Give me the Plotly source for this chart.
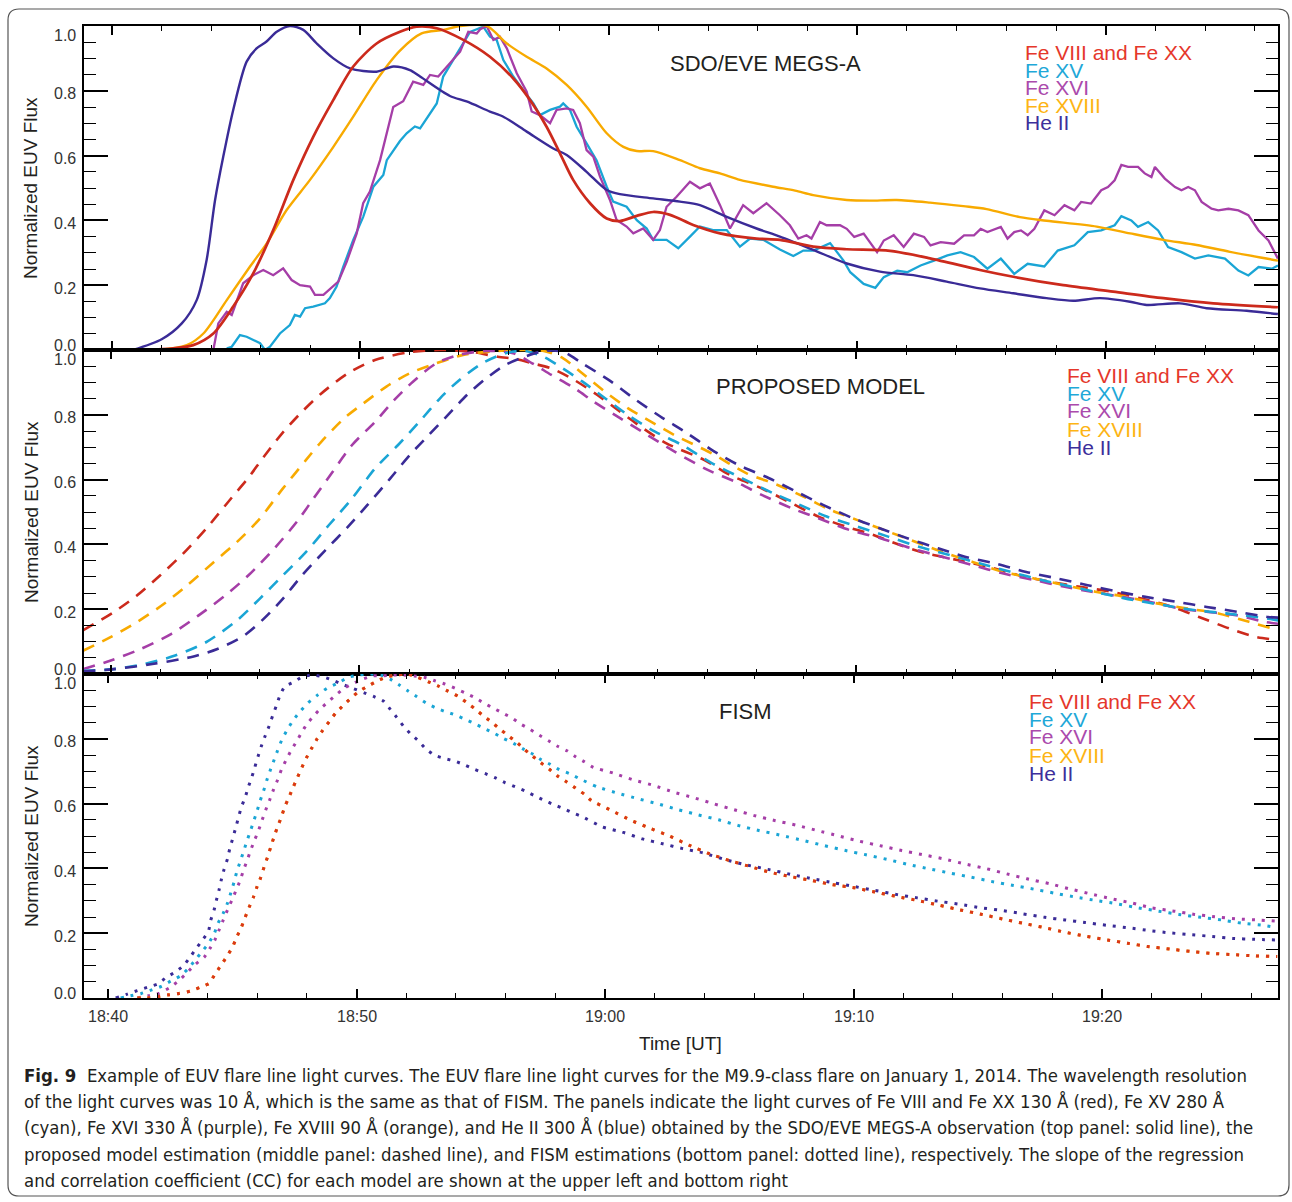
import plotly.graph_objects as go

# ---------------- DATA (time = minutes after 18:00 UT, values = normalized flux) ----------------
# Top panel: SDO/EVE MEGS-A observations (solid)
eve_t_he2 = [40.86, 42.01, 42.82, 43.42, 43.82, 44.16, 44.49, 44.89, 45.43, 45.83, 46.23, 46.64, 47.17, 47.71, 48.25,
             48.92, 49.59, 50.66, 51.33, 52.0, 52.41, 53.61, 54.28, 55.22, 55.76, 56.7, 57.77, 58.31, 59.11, 59.92,
             60.45, 61.79, 62.87, 63.67, 64.75, 65.95, 66.89, 68.23, 69.58, 70.92, 72.26, 73.6, 74.94, 76.28, 77.62,
             78.69, 79.77, 80.98, 81.65, 82.99, 84.06, 85.67, 86.93]
eve_v_he2 = [0.0, 0.033, 0.082, 0.154, 0.278, 0.463, 0.597, 0.741, 0.89, 0.931, 0.952, 0.982, 1.0, 0.988, 0.946,
             0.9, 0.869, 0.859, 0.875, 0.864, 0.844, 0.784, 0.767, 0.736, 0.72, 0.674, 0.622, 0.602, 0.55, 0.494,
             0.481, 0.468, 0.458, 0.447, 0.411, 0.375, 0.35, 0.309, 0.267, 0.242, 0.231, 0.211, 0.19, 0.175, 0.16,
             0.152, 0.16, 0.149, 0.139, 0.144, 0.129, 0.121, 0.111]

eve_t_fe8 = [41.27, 42.48, 43.28, 44.09, 44.89, 45.7, 46.5, 47.31, 48.11, 48.92, 49.72, 50.66, 51.6, 52.27, 53.08,
             54.15, 55.22, 56.16, 56.83, 57.5, 58.04, 58.57, 59.25, 59.92, 60.45, 61.13, 61.79, 62.47, 63.4, 64.48,
             65.95, 66.89, 68.23, 69.58, 71.32, 72.93, 74.94, 76.28, 78.29, 80.3, 82.32, 84.33, 86.93]
eve_v_fe8 = [0.0, 0.005, 0.015, 0.051, 0.134, 0.237, 0.37, 0.525, 0.658, 0.772, 0.875, 0.946, 0.982, 0.998, 0.993,
             0.957, 0.905, 0.838, 0.772, 0.689, 0.607, 0.525, 0.453, 0.406, 0.398, 0.414, 0.426, 0.417, 0.386, 0.36,
             0.344, 0.34, 0.319, 0.311, 0.306, 0.283, 0.247, 0.226, 0.2, 0.18, 0.16, 0.144, 0.132]

eve_t_fe18 = [41.93, 43.02, 43.69, 44.63, 45.56, 46.24, 47.04, 47.98, 48.92, 49.72, 50.66, 51.6, 52.47, 53.34, 54.02,
              55.09, 55.9, 56.7, 57.5, 58.31, 59.11, 59.92, 60.59, 61.13, 61.79, 62.87, 63.67, 64.48, 65.28, 66.62,
              67.5, 68.23, 69.58, 70.51, 71.59, 72.93, 74.27, 75.21, 76.55, 77.62, 79.64, 80.98, 82.32, 83.66, 85.0,
              86.93]
eve_v_fe18 = [0.0, 0.015, 0.051, 0.154, 0.257, 0.329, 0.432, 0.525, 0.627, 0.72, 0.833, 0.924, 0.977, 0.988, 1.0,
              1.0, 0.946, 0.905, 0.869, 0.818, 0.751, 0.669, 0.627, 0.614, 0.614, 0.586, 0.561, 0.545, 0.525, 0.504,
              0.492, 0.478, 0.463, 0.461, 0.463, 0.455, 0.444, 0.435, 0.41, 0.399, 0.381, 0.36, 0.34, 0.324, 0.303,
              0.276]

eve_t_fe15 = [44.63, 44.83, 45.16, 45.43, 45.7, 45.97, 46.17, 46.37, 46.77, 47.17, 47.37, 47.58, 47.78, 48.11, 48.58,
              48.78, 49.05, 49.32, 49.72, 50.12, 50.53, 50.93, 51.07, 51.6, 51.87, 52.2, 52.41, 52.68, 53.08, 53.34,
              53.75, 54.15, 54.42, 54.69, 54.95, 55.22, 55.49, 55.76, 56.16, 56.56, 56.97, 57.23, 57.64, 58.04, 58.17,
              58.44, 58.71, 59.11, 59.51, 59.92, 60.18, 60.72, 61.13, 61.53, 61.79, 62.33, 62.8, 63.27, 63.67, 64.2,
              64.75, 65.28, 65.69, 66.22, 66.89, 67.43, 67.83, 68.24, 68.91, 69.45, 69.72, 70.26, 70.73, 71.07, 71.61,
              72.01, 72.55, 73.09, 73.63, 74.16, 74.7, 75.24, 75.78, 76.32, 76.86, 77.53, 78.07, 78.74, 79.28, 79.82,
              80.36, 80.63, 81.03, 81.3, 81.71, 82.11, 82.51, 83.05, 83.59, 84.13, 84.8, 85.34, 85.74, 86.15, 86.69,
              86.93]
eve_v_fe15 = [0.005, 0.01, 0.046, 0.041, 0.031, 0.021, 0.0, 0.01, 0.051, 0.077, 0.108, 0.103, 0.129, 0.134, 0.144,
              0.16, 0.196, 0.257, 0.34, 0.411, 0.504, 0.54, 0.586, 0.645, 0.669, 0.69, 0.684, 0.715, 0.761, 0.844,
              0.895, 0.946, 0.982, 0.99, 0.998, 0.967, 0.957, 0.895, 0.844, 0.802, 0.761, 0.725, 0.741, 0.751, 0.761,
              0.741, 0.689, 0.638, 0.586, 0.504, 0.458, 0.442, 0.401, 0.375, 0.34, 0.34, 0.314, 0.35, 0.381, 0.37,
              0.37, 0.319, 0.344, 0.34, 0.31, 0.29, 0.307, 0.307, 0.33, 0.276, 0.24, 0.204, 0.192, 0.225, 0.245,
              0.24, 0.261, 0.276, 0.292, 0.302, 0.287, 0.251, 0.282, 0.235, 0.266, 0.258, 0.307, 0.323, 0.364, 0.369,
              0.385, 0.413, 0.4, 0.38, 0.395, 0.369, 0.318, 0.302, 0.282, 0.292, 0.282, 0.245, 0.23, 0.256, 0.251,
              0.261]

eve_t_fe16 = [44.09, 44.29, 44.63, 44.83, 45.29, 45.7, 46.1, 46.5, 46.9, 47.24, 47.58, 47.98, 48.18, 48.52, 49.12,
              49.46, 49.86, 50.12, 50.39, 50.8, 51.33, 51.73, 52.13, 52.54, 52.81, 53.14, 53.61, 54.02, 54.35, 54.69,
              54.83, 55.09, 55.36, 55.62, 55.9, 56.3, 56.7, 56.9, 57.23, 57.64, 57.9, 58.31, 58.57, 58.84, 59.11,
              59.38, 59.65, 60.05, 60.32, 60.72, 60.99, 61.39, 61.79, 62.06, 62.33, 62.73, 63.27, 63.67, 64.07, 64.48,
              64.88, 65.41, 65.82, 66.35, 66.89, 67.29, 67.63, 67.96, 68.16, 68.5, 68.77, 69.31, 69.58, 69.88, 70.26,
              70.8, 71.07, 71.47, 71.87, 72.28, 72.69, 72.95, 73.36, 73.9, 74.3, 74.7, 74.97, 75.24, 75.78, 76.05,
              76.32, 76.59, 76.86, 77.13, 77.53, 77.94, 78.34, 78.74, 79.01, 79.41, 79.82, 80.09, 80.36, 80.63, 80.9,
              81.3, 81.57, 81.84, 81.98, 82.38, 82.79, 83.05, 83.32, 83.59, 83.86, 84.26, 84.53, 84.94, 85.34, 85.74,
              86.15, 86.55, 86.93]
eve_v_fe16 = [0.0, 0.082, 0.118, 0.108, 0.206, 0.231, 0.247, 0.231, 0.252, 0.216, 0.2, 0.196, 0.17, 0.17, 0.211,
              0.273, 0.36, 0.453, 0.489, 0.586, 0.75, 0.768, 0.828, 0.818, 0.849, 0.844, 0.885, 0.921, 0.982, 0.977,
              0.99, 1.0, 0.957, 0.967, 0.931, 0.854, 0.797, 0.736, 0.725, 0.7, 0.741, 0.746, 0.741, 0.7, 0.617,
              0.597, 0.535, 0.463, 0.401, 0.381, 0.36, 0.375, 0.34, 0.37, 0.442, 0.473, 0.519, 0.499, 0.514, 0.447,
              0.375, 0.447, 0.422, 0.453, 0.416, 0.385, 0.344, 0.354, 0.344, 0.395, 0.385, 0.385, 0.374, 0.349, 0.359,
              0.302, 0.338, 0.354, 0.318, 0.359, 0.349, 0.323, 0.333, 0.328, 0.354, 0.354, 0.374, 0.364, 0.38, 0.344,
              0.364, 0.369, 0.354, 0.374, 0.431, 0.416, 0.447, 0.431, 0.457, 0.452, 0.493, 0.503, 0.524, 0.571, 0.565,
              0.565, 0.545, 0.534, 0.565, 0.529, 0.503, 0.493, 0.503, 0.493, 0.457, 0.436, 0.431, 0.436, 0.431, 0.416,
              0.369, 0.338, 0.282]

# Middle panel: proposed model (dashed)
mod_t_fe8 = [38.89, 40.12, 41.05, 41.98, 42.9, 43.83, 44.83, 45.53, 46.15, 46.92, 47.69, 48.46, 49.54, 50.63, 52.02,
             53.25, 54.49, 55.57, 56.34, 56.96, 57.73, 58.66, 59.58, 60.51, 61.44, 62.36, 63.87, 64.95, 66.19, 67.27,
             68.5, 69.58, 70.66, 71.75, 72.83, 74.06, 75.3, 76.53, 77.77, 79.0, 80.24, 81.48, 82.71, 83.79, 85.03,
             86.11, 87.0]
mod_v_fe8 = [0.135, 0.191, 0.242, 0.304, 0.371, 0.448, 0.541, 0.605, 0.67, 0.745, 0.809, 0.865, 0.928, 0.969, 0.993,
             1.0, 0.995, 0.979, 0.972, 0.959, 0.943, 0.907, 0.861, 0.809, 0.757, 0.712, 0.661, 0.613, 0.573, 0.532,
             0.485, 0.455, 0.43, 0.398, 0.372, 0.352, 0.331, 0.305, 0.285, 0.269, 0.254, 0.233, 0.207, 0.176, 0.14,
             0.114, 0.105]

mod_t_fe18 = [38.89, 39.97, 41.05, 42.13, 43.06, 44.14, 45.07, 45.99, 46.92, 47.85, 48.46, 49.39, 50.16, 51.09, 52.02,
              53.1, 54.18, 55.26, 56.19, 57.42, 58.19, 58.97, 59.89, 60.82, 61.75, 62.67, 64.18, 65.57, 66.81, 67.89,
              68.97, 70.05, 71.13, 72.21, 73.45, 74.68, 75.92, 77.15, 78.39, 79.62, 80.86, 82.1, 83.33, 84.57, 85.8,
              87.0]
mod_v_fe18 = [0.072, 0.113, 0.16, 0.216, 0.273, 0.345, 0.407, 0.479, 0.572, 0.66, 0.716, 0.789, 0.835, 0.887, 0.928,
              0.959, 0.985, 0.995, 1.0, 0.997, 0.975, 0.928, 0.871, 0.82, 0.778, 0.738, 0.681, 0.62, 0.584, 0.547,
              0.506, 0.475, 0.444, 0.413, 0.377, 0.346, 0.315, 0.295, 0.274, 0.254, 0.238, 0.218, 0.202, 0.187, 0.161,
              0.135]

mod_t_fe16 = [38.89, 39.97, 41.2, 42.44, 43.52, 44.6, 45.53, 46.61, 47.54, 48.15, 48.93, 49.7, 50.63, 51.4, 52.17,
              53.1, 54.02, 55.11, 56.19, 56.96, 57.73, 58.66, 59.44, 60.51, 61.59, 62.67, 64.02, 65.26, 66.19, 67.42,
              68.5, 69.74, 70.97, 72.21, 73.45, 74.68, 75.92, 77.15, 78.39, 79.47, 80.71, 81.78, 83.02, 84.1, 85.34,
              86.42, 87.0]
mod_v_fe16 = [0.015, 0.041, 0.077, 0.124, 0.18, 0.242, 0.304, 0.39, 0.475, 0.541, 0.624, 0.706, 0.778, 0.845, 0.903,
              0.959, 0.985, 0.997, 0.99, 0.959, 0.923, 0.882, 0.84, 0.789, 0.738, 0.687, 0.63, 0.589, 0.553, 0.511,
              0.48, 0.444, 0.419, 0.388, 0.362, 0.336, 0.31, 0.29, 0.269, 0.254, 0.238, 0.223, 0.202, 0.192, 0.181,
              0.161, 0.155]

mod_t_fe15 = [38.89, 40.12, 41.36, 42.59, 43.83, 45.07, 45.99, 46.92, 47.85, 48.77, 49.7, 50.63, 51.55, 52.48, 53.25,
              54.02, 54.95, 55.88, 56.65, 57.42, 58.19, 58.97, 59.89, 60.82, 61.9, 62.98, 64.18, 65.41, 66.65, 67.73,
              68.81, 70.05, 71.28, 72.52, 73.75, 74.99, 76.22, 77.46, 78.7, 79.93, 81.17, 82.4, 83.64, 84.87, 86.57,
              87.0]
mod_v_fe15 = [0.01, 0.015, 0.031, 0.057, 0.098, 0.165, 0.232, 0.304, 0.376, 0.459, 0.541, 0.634, 0.706, 0.784, 0.851,
              0.907, 0.959, 0.99, 0.997, 0.979, 0.943, 0.903, 0.851, 0.799, 0.748, 0.707, 0.651, 0.604, 0.558, 0.522,
              0.486, 0.455, 0.424, 0.393, 0.367, 0.341, 0.315, 0.29, 0.269, 0.248, 0.228, 0.212, 0.197, 0.187, 0.171,
              0.165]

mod_t_he2 = [38.89, 40.12, 41.67, 43.21, 44.29, 45.37, 46.15, 46.92, 47.69, 48.62, 49.54, 50.32, 51.24, 52.02, 52.79,
             53.56, 54.33, 55.1, 55.88, 56.65, 57.42, 58.19, 58.97, 60.05, 61.13, 62.21, 63.1, 64.18, 65.26, 66.49,
             67.58, 68.66, 69.89, 70.97, 72.05, 73.29, 74.37, 75.61, 76.84, 78.08, 79.31, 80.55, 81.63, 82.87, 84.1,
             85.34, 86.57, 87.0]
mod_v_he2 = [0.008, 0.015, 0.031, 0.052, 0.077, 0.119, 0.17, 0.232, 0.304, 0.381, 0.454, 0.521, 0.603, 0.675, 0.737,
             0.799, 0.861, 0.912, 0.954, 0.979, 0.997, 0.995, 0.959, 0.907, 0.846, 0.79, 0.748, 0.692, 0.645, 0.604,
             0.563, 0.522, 0.48, 0.449, 0.419, 0.388, 0.362, 0.341, 0.315, 0.295, 0.274, 0.254, 0.238, 0.223, 0.207,
             0.192, 0.176, 0.174]

# Bottom panel: FISM estimations (dotted)
fism_t_he2 = [40.31, 40.78, 41.18, 41.58, 41.99, 42.32, 42.68, 43.03, 43.3, 43.56, 43.8, 44.04, 44.13, 44.27, 44.36,
              44.47, 44.56, 44.67, 44.81, 44.9, 45.03, 45.14, 45.25, 45.37, 45.52, 45.65, 45.79, 45.91, 46.04, 46.17,
              46.32, 46.48, 46.62, 46.77, 46.91, 47.11, 47.49, 47.83, 48.27, 48.7, 49.1, 49.5, 49.84, 50.31, 50.71,
              51.09, 51.36, 51.62, 51.89, 52.19, 52.5, 52.79, 53.15, 53.56, 53.96, 54.36, 54.77, 55.17, 55.57, 55.97,
              56.38, 56.78, 57.15, 57.56, 57.93, 58.34, 58.71, 59.1, 59.89, 60.7, 61.51, 62.32, 63.13, 63.94, 64.93,
              65.74, 66.56, 67.45, 68.35, 69.24, 69.96, 70.86, 71.76, 72.57, 73.38, 74.28, 75.18, 75.99, 76.8, 77.7,
              78.51, 79.32, 80.22, 81.03, 81.92, 82.73, 83.63, 84.44, 85.25, 86.15, 87.05]
fism_v_he2 = [0.0, 0.012, 0.023, 0.033, 0.043, 0.062, 0.079, 0.099, 0.126, 0.154, 0.179, 0.205, 0.239, 0.272, 0.301,
              0.334, 0.365, 0.397, 0.43, 0.461, 0.495, 0.526, 0.557, 0.59, 0.619, 0.652, 0.682, 0.713, 0.746, 0.777,
              0.808, 0.839, 0.87, 0.901, 0.932, 0.961, 0.976, 0.992, 0.997, 0.99, 0.979, 0.966, 0.956, 0.942, 0.93,
              0.916, 0.891, 0.866, 0.839, 0.814, 0.793, 0.769, 0.749, 0.739, 0.731, 0.719, 0.705, 0.693, 0.68, 0.665,
              0.652, 0.639, 0.625, 0.61, 0.597, 0.584, 0.571, 0.559, 0.528, 0.512, 0.491, 0.476, 0.461, 0.448, 0.425,
              0.41, 0.397, 0.382, 0.368, 0.355, 0.345, 0.332, 0.319, 0.309, 0.299, 0.289, 0.278, 0.27, 0.26, 0.249,
              0.241, 0.233, 0.224, 0.217, 0.208, 0.201, 0.195, 0.19, 0.184, 0.181, 0.179]

fism_t_fe15 = [40.51, 40.91, 41.34, 41.76, 42.15, 42.52, 42.93, 43.22, 43.49, 43.76, 44.03, 44.27, 44.43, 44.64, 44.81,
               44.94, 45.07, 45.18, 45.32, 45.45, 45.58, 45.72, 45.85, 45.99, 46.12, 46.26, 46.39, 46.52, 46.68, 46.82,
               46.98, 47.19, 47.46, 47.76, 48.05, 48.43, 48.81, 49.23, 49.68, 50.11, 50.55, 50.98, 51.36, 51.72, 52.05,
               52.43, 52.79, 53.17, 53.57, 53.97, 54.38, 54.77, 55.14, 55.54, 55.92, 56.32, 56.72, 57.09, 57.42, 57.8,
               58.16, 58.56, 58.97, 59.71, 60.52, 61.33, 62.14, 62.95, 63.76, 64.57, 65.38, 66.19, 67.09, 67.99, 68.79,
               69.69, 70.5, 71.4, 72.21, 73.02, 73.92, 74.73, 75.54, 76.44, 77.25, 78.06, 78.96, 79.77, 80.58, 81.47,
               82.28, 83.09, 83.99, 84.8, 85.61, 86.51, 87.05]
fism_v_fe15 = [0.0, 0.007, 0.014, 0.025, 0.036, 0.052, 0.069, 0.09, 0.115, 0.141, 0.167, 0.198, 0.231, 0.262, 0.293,
               0.324, 0.357, 0.389, 0.421, 0.451, 0.482, 0.513, 0.543, 0.575, 0.608, 0.639, 0.672, 0.701, 0.734, 0.763,
               0.794, 0.825, 0.858, 0.887, 0.911, 0.935, 0.956, 0.971, 0.99, 0.997, 1.0, 0.997, 0.984, 0.966, 0.949,
               0.93, 0.911, 0.896, 0.884, 0.874, 0.86, 0.846, 0.832, 0.817, 0.801, 0.786, 0.768, 0.753, 0.736, 0.721,
               0.705, 0.693, 0.677, 0.651, 0.632, 0.615, 0.599, 0.581, 0.565, 0.55, 0.532, 0.517, 0.502, 0.486, 0.471,
               0.455, 0.442, 0.427, 0.412, 0.399, 0.385, 0.373, 0.36, 0.347, 0.336, 0.324, 0.311, 0.301, 0.291, 0.278,
               0.268, 0.258, 0.249, 0.241, 0.231, 0.224, 0.217]

fism_t_fe16 = [41.18, 41.62, 42.05, 42.5, 42.86, 43.19, 43.53, 43.87, 44.11, 44.3, 44.47, 44.64, 44.81, 44.98, 45.15,
               45.32, 45.45, 45.61, 45.74, 45.91, 46.07, 46.21, 46.35, 46.51, 46.66, 46.82, 46.98, 47.15, 47.36, 47.58,
               47.79, 48.0, 48.27, 48.56, 48.86, 49.17, 49.5, 49.88, 50.24, 50.64, 51.05, 51.45, 51.89, 52.32, 52.72,
               53.15, 53.56, 53.96, 54.36, 54.74, 55.11, 55.52, 55.92, 56.28, 56.62, 56.99, 57.36, 57.73, 58.09, 58.47,
               58.83, 59.17, 59.53, 60.34, 61.15, 61.96, 62.77, 63.58, 64.39, 65.2, 66.01, 66.82, 67.72, 68.53, 69.42,
               70.23, 71.13, 71.94, 72.75, 73.65, 74.46, 75.36, 76.17, 76.98, 77.88, 78.69, 79.5, 80.4, 81.21, 82.01,
               82.91, 83.72, 84.53, 85.43, 86.24, 87.05]
fism_v_fe16 = [0.0, 0.007, 0.014, 0.033, 0.054, 0.079, 0.105, 0.126, 0.154, 0.179, 0.21, 0.241, 0.272, 0.301, 0.332,
               0.363, 0.394, 0.427, 0.456, 0.489, 0.52, 0.551, 0.581, 0.612, 0.643, 0.672, 0.705, 0.732, 0.763, 0.791,
               0.819, 0.845, 0.87, 0.894, 0.914, 0.935, 0.956, 0.971, 0.984, 0.994, 0.994, 0.997, 0.997, 0.994, 0.99,
               0.979, 0.969, 0.956, 0.942, 0.928, 0.911, 0.894, 0.878, 0.863, 0.845, 0.829, 0.811, 0.794, 0.777, 0.763,
               0.744, 0.729, 0.712, 0.694, 0.673, 0.656, 0.635, 0.618, 0.599, 0.581, 0.563, 0.548, 0.533, 0.517, 0.5,
               0.484, 0.469, 0.455, 0.443, 0.429, 0.414, 0.399, 0.383, 0.368, 0.353, 0.337, 0.322, 0.306, 0.293, 0.278,
               0.268, 0.258, 0.251, 0.244, 0.241, 0.237]

fism_t_fe8 = [41.18, 41.58, 42.01, 42.46, 42.86, 43.3, 43.7, 44.07, 44.31, 44.54, 44.78, 45.01, 45.18, 45.37, 45.52,
              45.68, 45.85, 45.99, 46.15, 46.28, 46.42, 46.55, 46.68, 46.82, 46.98, 47.11, 47.29, 47.46, 47.62, 47.8,
              47.99, 48.19, 48.4, 48.63, 48.9, 49.17, 49.48, 49.77, 50.11, 50.47, 50.85, 51.25, 51.65, 52.05, 52.46,
              52.89, 53.29, 53.66, 54.07, 54.4, 54.74, 55.07, 55.41, 55.74, 56.08, 56.42, 56.75, 57.09, 57.42, 57.76,
              58.09, 58.46, 58.81, 59.17, 59.44, 60.25, 61.06, 61.87, 62.59, 63.4, 64.21, 65.02, 65.83, 66.64, 67.45,
              68.35, 69.15, 70.05, 70.86, 71.76, 72.57, 73.47, 74.28, 75.18, 75.99, 76.8, 77.7, 78.51, 79.32, 80.22,
              81.03, 81.83, 82.73, 83.54, 84.35, 85.25, 86.15, 87.05]
fism_v_fe8 = [0.0, 0.0, 0.004, 0.01, 0.014, 0.021, 0.033, 0.045, 0.074, 0.1, 0.128, 0.157, 0.188, 0.219, 0.249,
              0.28, 0.311, 0.342, 0.373, 0.404, 0.435, 0.466, 0.497, 0.528, 0.559, 0.59, 0.621, 0.652, 0.68, 0.711,
              0.742, 0.77, 0.798, 0.825, 0.853, 0.88, 0.904, 0.925, 0.947, 0.963, 0.979, 0.992, 0.997, 1.0, 0.99,
              0.976, 0.963, 0.948, 0.932, 0.914, 0.894, 0.873, 0.853, 0.832, 0.811, 0.791, 0.768, 0.746, 0.726, 0.706,
              0.685, 0.667, 0.648, 0.629, 0.61, 0.579, 0.548, 0.522, 0.5, 0.471, 0.445, 0.424, 0.406, 0.388, 0.375,
              0.362, 0.35, 0.34, 0.327, 0.313, 0.301, 0.286, 0.272, 0.258, 0.244, 0.231, 0.217, 0.203, 0.191, 0.179,
              0.169, 0.159, 0.151, 0.144, 0.138, 0.134, 0.13, 0.128]
# FISM Fe XVIII coincides with the Fe VIII/Fe XX curve
fism_t_fe18 = fism_t_fe8
fism_v_fe18 = fism_v_fe8

# Tick labels / texts
x_tickvals = [40, 50, 60, 70, 80]
x_ticktext = ["18:40", "18:50", "19:00", "19:10", "19:20"]
y_tickvals = [0.0, 0.2, 0.4, 0.6, 0.8, 1.0]
y_ticktext = ["0.0", "0.2", "0.4", "0.6", "0.8", "1.0"]
legend_labels = ["Fe VIII and Fe XX", "Fe XV", "Fe XVI", "Fe XVIII", "He II"]
panel_titles = ["SDO/EVE MEGS-A", "PROPOSED MODEL", "FISM"]
caption_lines = [
    "<b>Fig. 9</b>  Example of EUV flare line light curves. The EUV flare line light curves for the M9.9-class flare on January 1, 2014. The wavelength resolution",
    "of the light curves was 10 Å, which is the same as that of FISM. The panels indicate the light curves of Fe VIII and Fe XX 130 Å (red), Fe XV 280 Å",
    "(cyan), Fe XVI 330 Å (purple), Fe XVIII 90 Å (orange), and He II 300 Å (blue) obtained by the SDO/EVE MEGS-A observation (top panel: solid line), the",
    "proposed model estimation (middle panel: dashed line), and FISM estimations (bottom panel: dotted line), respectively. The slope of the regression",
    "and correlation coefficient (CC) for each model are shown at the upper left and bottom right",
]

# ---------------- STYLE ----------------
RED, CYAN, PURPLE, ORANGE, BLUE = "#cc2a1c", "#1aa5d5", "#a53ea7", "#f8aa00", "#3a2b97"
LEG_COLORS = ["#e5372b", "#1fa8d8", "#ab4aac", "#fdb414", "#3d2f9b"]
FONT = "Liberation Sans, Arial, sans-serif"
CAP_FONT = "Liberation Sans Narrow, DejaVu Sans Condensed, Roboto Condensed, Liberation Sans, sans-serif"

W, H = 1292, 1202
ML, MR, MT, MB = 84, 14, 26, 204
PW, PH = W - ML - MR, H - MT - MB


def fx(px):
    return (px - ML) / PW


def fy(py):
    return (H - MB - py) / PH


fig = go.Figure()

dash = dict(width=2.6, dash="12px,9px")
dot = dict(width=3, dash="3px,7px")

# top panel (noisy lines linear, smooth ones spline)
for t, v, c, shp, w in [(eve_t_fe15, eve_v_fe15, CYAN, "linear", 2.3), (eve_t_fe16, eve_v_fe16, PURPLE, "linear", 2.3),
                        (eve_t_fe18, eve_v_fe18, ORANGE, "spline", 2.4), (eve_t_he2, eve_v_he2, BLUE, "spline", 2.4),
                        (eve_t_fe8, eve_v_fe8, RED, "spline", 2.7)]:
    fig.add_trace(go.Scatter(x=t, y=v, mode="lines", line=dict(color=c, width=w, shape=shp, smoothing=0.8),
                             xaxis="x", yaxis="y", showlegend=False))
# middle panel
for t, v, c in [(mod_t_fe8, mod_v_fe8, RED), (mod_t_fe18, mod_v_fe18, ORANGE), (mod_t_fe16, mod_v_fe16, PURPLE),
                (mod_t_fe15, mod_v_fe15, CYAN), (mod_t_he2, mod_v_he2, BLUE)]:
    fig.add_trace(go.Scatter(x=t, y=v, mode="lines", line=dict(color=c, shape="spline", smoothing=0.8, **dash),
                             xaxis="x2", yaxis="y2", showlegend=False))
# bottom panel
for t, v, c in [(fism_t_he2, fism_v_he2, BLUE), (fism_t_fe15, fism_v_fe15, CYAN), (fism_t_fe16, fism_v_fe16, PURPLE),
                (fism_t_fe18, fism_v_fe18, ORANGE), (fism_t_fe8, fism_v_fe8, "#d9361a")]:
    fig.add_trace(go.Scatter(x=t, y=v, mode="lines", line=dict(color=c, shape="spline", smoothing=0.5, **dot),
                             xaxis="x3", yaxis="y3", showlegend=False))


def xax(rng, anchor):
    return dict(domain=[0, 1], anchor=anchor, range=rng, tickmode="array", tickvals=x_tickvals,
                ticktext=x_ticktext, showticklabels=False, ticks="inside", ticklen=9, tickwidth=1.5,
                tickcolor="black", showline=True, linewidth=2, linecolor="black", mirror="ticks",
                showgrid=False, zeroline=False,
                minor=dict(tickmode="linear", tick0=0, dtick=2, ticks="inside", ticklen=5, tickwidth=1.3,
                           tickcolor="black", showgrid=False))


def yax(dom, anchor):
    return dict(domain=dom, anchor=anchor, range=[0, 1], tickmode="array", tickvals=y_tickvals,
                showticklabels=False, ticks="inside", ticklen=24, tickwidth=1.5, tickcolor="black",
                showline=True, linewidth=2, linecolor="black", mirror="ticks", showgrid=False, zeroline=False,
                minor=dict(tickmode="linear", tick0=0, dtick=0.05, ticks="inside", ticklen=12, tickwidth=1.3,
                           tickcolor="black", showgrid=False))


top_rng = [40 - (111.7 - ML) / 24.85, 40 + (W - MR - 111.7) / 24.85]
mid_rng = [40 - (110.8 - ML) / 24.85, 40 + (W - MR - 110.8) / 24.85]
bot_rng = [40 - (108.0 - ML) / 24.85, 40 + (W - MR - 108.0) / 24.85]

fig.update_layout(
    width=W, height=H, margin=dict(l=ML, r=MR, t=MT, b=MB), plot_bgcolor="white", paper_bgcolor="white",
    xaxis=xax(top_rng, "y"), yaxis=yax([2 / 3, 1], "x"),
    xaxis2=xax(mid_rng, "y2"), yaxis2=yax([1 / 3, 2 / 3], "x2"),
    xaxis3=xax(bot_rng, "y3"), yaxis3=yax([0, 1 / 3], "x3"),
    showlegend=False,
)

ann = []
TXT = "#231f20"
# y tick labels and axis titles
for yref, ycen in [("y", (26 + 350) / 2), ("y2", (350 + 674) / 2), ("y3", (674 + 998) / 2)]:
    for val, txt in zip(y_tickvals, y_ticktext):
        shift = -9 if val == 1.0 else (5 if val == 0.0 else -3)
        ann.append(dict(xref="paper", yref=yref, x=fx(78), y=val, xanchor="right", yanchor="middle", yshift=shift,
                        text=txt, showarrow=False, font=dict(family=FONT, size=16, color="#333333")))
    ann.append(dict(xref="paper", yref="paper", x=fx(31), y=fy(ycen), xanchor="center", yanchor="middle",
                    text="Normalized EUV Flux", textangle=-90, showarrow=False,
                    font=dict(family=FONT, size=19, color=TXT)))
# x tick labels
for val, txt in zip(x_tickvals, x_ticktext):
    ann.append(dict(xref="x3", yref="paper", x=val, y=fy(1017), xanchor="center", yanchor="middle", text=txt,
                    showarrow=False, font=dict(family=FONT, size=16, color="#333333")))
ann.append(dict(xref="paper", yref="paper", x=fx(680), y=fy(1043), xanchor="center", yanchor="middle",
                text="Time [UT]", showarrow=False, font=dict(family=FONT, size=19, color=TXT)))
# panel titles
for title, (cx, cy) in zip(panel_titles, [(765, 64), (820, 387), (745, 711)]):
    ann.append(dict(xref="paper", yref="paper", x=fx(cx), y=fy(cy), xanchor="center", yanchor="middle",
                    text=title, showarrow=False, font=dict(family=FONT, size=22, color=TXT)))
# colored legend texts (tightly stacked as in the original)
for lx, ys in [(1023, [52, 70, 88, 105.5, 123]), (1065, [375, 393, 411, 429, 447]), (1027, [701, 719, 737, 755, 773])]:
    for lab, col, yy in zip(legend_labels, LEG_COLORS, ys):
        ann.append(dict(xref="paper", yref="paper", x=fx(lx), y=fy(yy), xanchor="left", yanchor="middle",
                        text=lab, showarrow=False, font=dict(family=FONT, size=21, color=col)))
# caption
for line, yy in zip(caption_lines, [1075, 1101, 1127, 1154, 1180]):
    ann.append(dict(xref="paper", yref="paper", x=fx(22), y=fy(yy), xanchor="left", yanchor="middle",
                    text=line, showarrow=False, font=dict(family=CAP_FONT, size=18.4, color=TXT)))
fig.update_layout(annotations=ann)

# rounded outer frame
x0, x1, y0, y1, r = 8, 1289, 9, 1196, 11
rx, ry = r / PW, r / PH
X0, X1, Y0, Y1 = fx(x0), fx(x1), fy(y0), fy(y1)
path = (f"M {X0 + rx},{Y0} L {X1 - rx},{Y0} Q {X1},{Y0} {X1},{Y0 - ry} L {X1},{Y1 + ry} Q {X1},{Y1} {X1 - rx},{Y1} "
        f"L {X0 + rx},{Y1} Q {X0},{Y1} {X0},{Y1 + ry} L {X0},{Y0 - ry} Q {X0},{Y0} {X0 + rx},{Y0} Z")
fig.add_shape(type="path", path=path, xref="paper", yref="paper", line=dict(color="#555555", width=1.2),
              layer="below")

fig.write_html("out.html")
